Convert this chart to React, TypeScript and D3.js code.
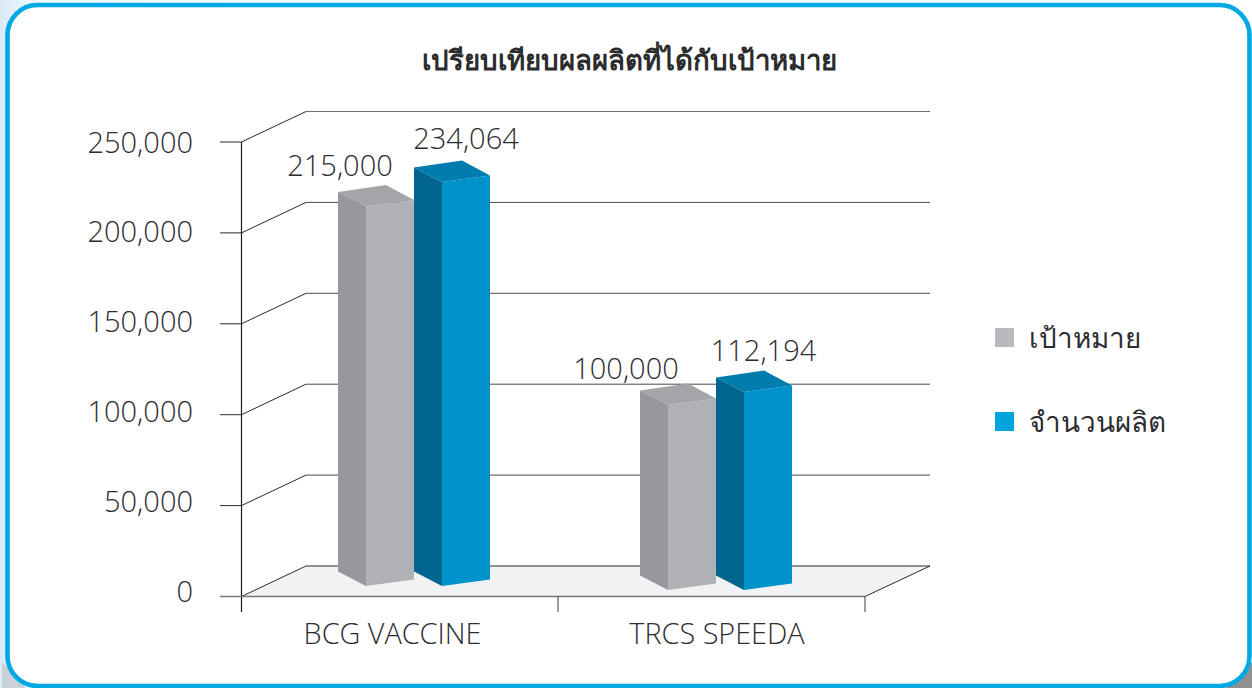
import React from "react";
import * as d3 from "d3";

const title = "เปรียบเทียบผลผลิตที่ได้กับเป้าหมาย";
const categories = ["BCG VACCINE", "TRCS SPEEDA"];
const seriesNames = ["เป้าหมาย", "จำนวนผลิต"];
const targetValues = [215000, 100000];
const producedValues = [234064, 112194];
const axisTicks = [0, 50000, 100000, 150000, 200000, 250000];

const W = 1252, H = 688;
const FONT = "'Open Sans','Noto Sans',sans-serif";
const TEXT = "#2c2d30";

const y = d3.scaleLinear().domain([0, 250000]).range([596.5, 142]);
// axis labels in the picture drift slightly from their ticks
const yLabel = d3.scaleLinear().domain([0, 250000]).range([601.5, 152.5]);
const backDX = 64.5, backDY = -30.5;
const axisX = 241.5, floorRight = 865;
const xGroup = d3.scalePoint<string>().domain(categories).range([414, 716]);
const xCatLabel = d3.scalePoint<string>().domain(categories).range([392.5, 717]);
const xTick = d3.scaleLinear().domain([0, 1, 2]).range([axisX, 558, floorRight]);
// bars in the picture are not drawn strictly to the axis: calibrated height
const barH = d3.scaleLinear()
  .domain([0, 100000, 112194, 215000, 234064])
  .range([0, 185, 198, 379.5, 404]);

const sideW = 28, frontW = 48, backRise = 14.5, frontRise = 6.5;
const seriesStyles = [
  { front: "#b0b1b5", side: "#97989c", top: "#a4a5a9", legend: "#b9bac0" },
  { front: "#0093cb", side: "#00658f", top: "#007cae", legend: "#00a5e0" },
];
const bases = [586, 590];
// value-label placement per [category][series]: centre relative to group, lift above bar
const labelDX = [[-74, 52], [-90, 47.5]];
const labelLift = [[30.5, 33.5], [26, 31]];

function Bar({ left, base, h, s }: { left: number; base: number; h: number; s: typeof seriesStyles[0] }) {
  const fx = left + sideW, rx = fx + frontW, top = base - h;
  const pts = (a: number[][]) => a.map((p) => p.join(",")).join(" ");
  return (
    <g>
      <polygon fill={s.side} points={pts([[left, base - backRise], [fx, base], [fx, top], [left, top - backRise]])} />
      <polygon fill={s.front} points={pts([[fx, base], [rx, base - frontRise], [rx, top - frontRise], [fx, top]])} />
      <polygon fill={s.top} points={pts([[left, top - backRise], [fx, top], [rx, top - frontRise], [rx - sideW, top - backRise - frontRise - 0.5]])} />
    </g>
  );
}

export default function App() {
  React.useEffect(() => { document.body.style.margin = "0"; }, []);
  const series = [targetValues, producedValues];
  return (
    <svg width={W} height={H} viewBox={`0 0 ${W} ${H}`} style={{ position: "absolute", left: 0, top: 0, display: "block" }}>
      <defs>
        <linearGradient id="page" x1="0" x2="1" y1="0" y2="0">
          <stop offset="0" stopColor="#d9ebf7" />
          <stop offset="0.03" stopColor="#f2f8fc" />
          <stop offset="0.2" stopColor="#ffffff" />
        </linearGradient>
        <linearGradient id="shade" x1="0" x2="1" y1="0" y2="0">
          <stop offset="0" stopColor="#c9d2d8" />
          <stop offset="1" stopColor="#8f9092" />
        </linearGradient>
      </defs>
      <rect width={W} height={H} fill="url(#page)" />
      <path d={`M${W - 26},${H} L${W},${H - 26} L${W},${H} Z`} fill="#8f9092" />
      <path d={`M2,${H - 26} L26,${H} L2,${H} Z`} fill="#c9d2d8" />
      <rect x={7.5} y={5} width={1242} height={681} rx={30} fill="#fff" stroke="#00a9e4" strokeWidth={4.6} />

      <text x={629.5} y={69.5} textAnchor="middle" fontFamily={FONT} fontWeight={700} fontSize={27.6} fill="#2b2c2e">{title}</text>

      <polygon fill="#f1f2f4" points={`${axisX},${y(0)} ${floorRight},${y(0)} ${floorRight + backDX},${y(0) + backDY} ${axisX + backDX},${y(0) + backDY}`} />

      {axisTicks.map((t) => (
        <g key={t}>
          <line x1={axisX + backDX} x2={930} y1={y(t) + backDY} y2={y(t) + backDY} stroke={t === 0 || t === 250000 ? "#6e6f72" : "#4a4b4e"} strokeWidth={t === 0 ? 1.6 : 1} />
          <line x1={axisX} x2={axisX + backDX} y1={y(t)} y2={y(t) + backDY} stroke="#2a2a2a" strokeWidth={1} />
          <line x1={220} x2={axisX} y1={y(t)} y2={y(t)} stroke="#2a2a2a" strokeWidth={1} />
          <text x={193} y={yLabel(t)} textAnchor="end" fontFamily={FONT} fontWeight={300} fontSize={29} fill={TEXT}>{d3.format(",")(t)}</text>
        </g>
      ))}
      <line x1={axisX} x2={axisX} y1={y(250000)} y2={612} stroke="#1c1c1c" strokeWidth={1.2} />
      <line x1={220} x2={floorRight} y1={y(0)} y2={y(0)} stroke="#77787a" strokeWidth={1.5} />
      <line x1={floorRight} x2={930} y1={y(0)} y2={y(0) + backDY} stroke="#2a2a2a" strokeWidth={1} />
      {[1, 2].map((i) => (
        <line key={i} x1={xTick(i)} x2={xTick(i)} y1={y(0)} y2={612} stroke="#3a3a3a" strokeWidth={1} />
      ))}

      {categories.map((c, ci) => {
        const g = xGroup(c)!;
        return (
          <g key={c}>
            {series.map((vals, si) => (
              <Bar key={si} left={si === 0 ? g - 76 : g} base={bases[ci]} h={barH(vals[ci])} s={seriesStyles[si]} />
            ))}
            {series.map((vals, si) => (
              <text key={si} x={g + labelDX[ci][si]} y={bases[ci] - barH(vals[ci]) - labelLift[ci][si]} textAnchor="middle" fontFamily={FONT} fontWeight={300} fontSize={29} fill={TEXT}>{d3.format(",")(vals[ci])}</text>
            ))}
            <text x={xCatLabel(c)} y={644} textAnchor="middle" fontFamily={FONT} fontWeight={300} fontSize={28.8} fill={TEXT}>{c}</text>
          </g>
        );
      })}

      {seriesNames.map((n, i) => (
        <g key={n}>
          <rect x={995} y={328 + i * 84} width={19} height={19} fill={seriesStyles[i].legend} />
          <text x={1029} y={348 + i * 84} fontFamily={FONT} fontWeight={300} fontSize={27.8} fill={TEXT}>{n}</text>
        </g>
      ))}
    </svg>
  );
}
